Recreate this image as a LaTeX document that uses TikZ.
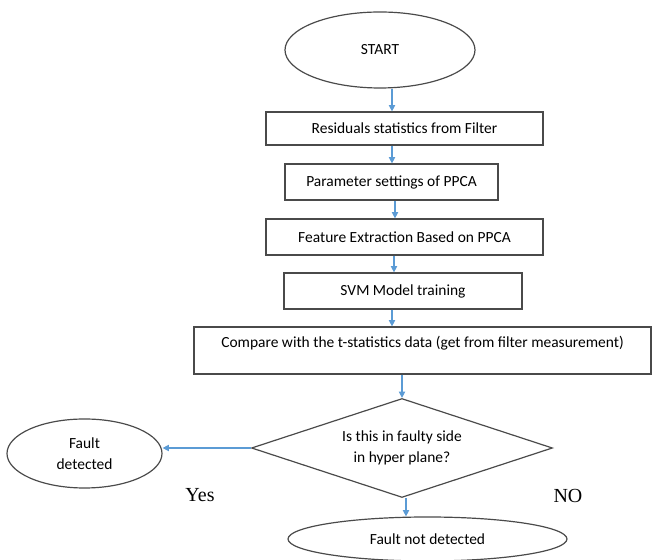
\documentclass[tikz,border=0pt]{standalone}
\usepackage{fontspec}
\setmainfont{Carlito}
\newfontfamily\serifyn{Liberation Serif}
\usetikzlibrary{shapes.geometric,arrows.meta}
\definecolor{arrblue}{HTML}{5B9BD5}
\definecolor{edgegray}{HTML}{4A4A4A}
\begin{document}
\begin{tikzpicture}[font=\fontsize{11}{15}\selectfont,
  box/.style={draw=edgegray,line width=0.85pt,rectangle,inner sep=0pt,align=center},
  oval/.style={draw=edgegray,line width=0.85pt,ellipse,inner sep=0pt,align=center},
  arr/.style={draw=arrblue,line width=0.8pt,-{Triangle[width=4.5pt,length=4.5pt]}}]

\useasboundingbox (0,0) rectangle (16.3,14);

% Blocchi

\begin{scope}
\node[oval,minimum width=4.75cm,minimum height=1.9cm] (start) at (9.5,12.75) {START};
\node[box,minimum width=6.925cm,minimum height=0.825cm] (res) at (10.1125,10.7875) {Residuals statistics from Filter};
\node[box,minimum width=5.325cm,minimum height=0.9cm] (par) at (9.7875,9.45) {Parameter settings of PPCA};
\node[box,minimum width=6.925cm,minimum height=0.9cm] (feat) at (10.1125,8.075) {Feature Extraction Based on PPCA};
\node[box,minimum width=5.95cm,minimum height=0.9cm] (svm) at (10.075,6.725) {SVM Model training};
\node[box,minimum width=11.425cm,minimum height=1.175cm,text depth=12pt] (cmp) at (10.5625,5.2375) {Compare with the t-statistics data (get from filter measurement)};
\node[draw=edgegray,line width=0.85pt,diamond,aspect=3.04,inner sep=0pt,align=center,minimum width=7.525cm,minimum height=2.475cm] (side) at (10.05,2.8) {Is this in faulty side\\in hyper plane?};
\node[oval,minimum width=3.875cm,minimum height=1.725cm] (fd) at (2.1125,2.6625) {Fault\\detected};
\node[oval,minimum width=6.975cm,minimum height=1.1cm] (fnd) at (10.6875,0.525) {Fault not detected};
\end{scope}

% Frecce

\draw[arr] ([xshift=0.3cm]start.south) -- ([xshift=0.3cm]start.south |- res.north);
\draw[arr] ([xshift=-0.3125cm]res.south) -- ([xshift=-0.3125cm]res.south |- par.north);
\draw[arr] ([xshift=0.0875cm]par.south) -- ([xshift=0.0875cm]par.south |- feat.north);
\draw[arr] ([xshift=-0.2625cm]feat.south) -- ([xshift=-0.2625cm]feat.south |- svm.north);
\draw[arr] ([xshift=-0.275cm]svm.south) -- ([xshift=-0.275cm]svm.south |- cmp.north);
\draw[arr] (side.north |- cmp.south) -- (side.north);
\draw[arr] (side.west) -- (side.west -| fd.east);
\draw[arr] ([xshift=0.1cm]side.south) -- ([xshift=0.1cm]side.south |- fnd.north);

\node[font=\serifyn\fontsize{14.2}{16}\selectfont] (yes) at (5.0,1.625) {Yes};
\node[font=\serifyn\fontsize{14.2}{16}\selectfont] (no) at (14.2,1.6) {NO};

\end{tikzpicture}
\end{document}
